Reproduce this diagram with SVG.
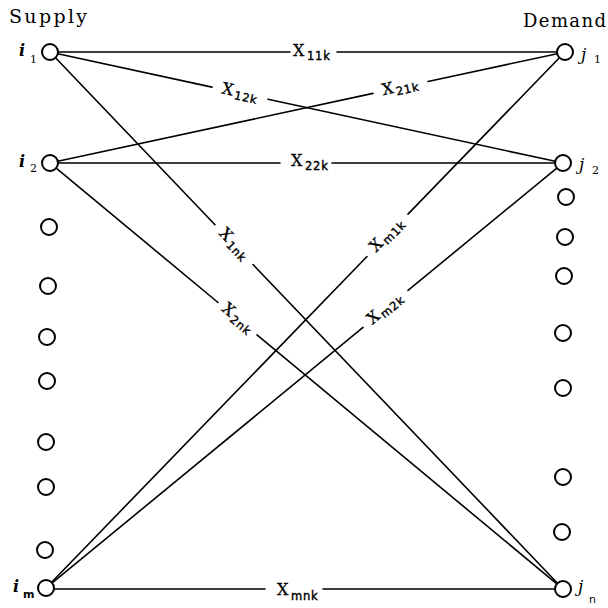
<svg xmlns="http://www.w3.org/2000/svg" width="608" height="608" viewBox="0 0 608 608">
<style>
.node{fill:#fff;stroke:#000;stroke-width:2}
.edge{stroke:#000;stroke-width:1.6;fill:none;stroke-linecap:round}
.title{font-family:"DejaVu Serif",serif;font-size:19px;fill:#000}
.nl{font-family:"DejaVu Serif",serif;font-style:italic;font-weight:bold;font-size:16px;fill:#000}
.ns{font-family:"DejaVu Serif",serif;font-style:normal;font-weight:normal;font-size:11px}
.nss{font-family:"DejaVu Sans",sans-serif;font-style:normal;font-weight:bold;font-size:11px}
.el{font-family:"DejaVu Serif",serif;font-size:16px;fill:#000;stroke:#000;stroke-width:0.3}
.es{font-family:"DejaVu Sans",sans-serif;font-size:11.5px;font-weight:normal;letter-spacing:0.8px;stroke-width:0.4}
</style>
<rect width="608" height="608" fill="#fff"/>
<text class="title" x="9" y="23" textLength="78" lengthAdjust="spacing">Supply</text>
<text class="title" x="523" y="27" textLength="83" lengthAdjust="spacing" style="font-size:18px">Demand</text>
<g id="connectors">
<g id="e-1-1">
<line class="edge" x1="58" y1="52" x2="290" y2="52"/>
<line class="edge" x1="337" y1="52" x2="557" y2="52"/>
<text class="el" x="293" y="56">X<tspan class="es" x="307" y="60">11k</tspan></text>
</g>
<g id="e-1-2">
<line class="edge" x1="57.8" y1="53.7" x2="212" y2="87.1"/>
<line class="edge" x1="268" y1="99.2" x2="555.2" y2="161.3"/>
<text class="el" transform="translate(240 93.2) rotate(12.2)" x="0" y="4" text-anchor="middle">X<tspan class="es" dx="2" dy="3">12k</tspan></text>
</g>
<g id="e-1-n">
<line class="edge" x1="55.5" y1="57.8" x2="215" y2="224.7"/>
<line class="edge" x1="253" y1="264.5" x2="557.5" y2="583.2"/>
<text class="el" transform="translate(234 244.6) rotate(46.3)" x="0" y="4" text-anchor="middle">X<tspan class="es" dx="2" dy="3">1nk</tspan></text>
</g>
<g id="e-2-1">
<line class="edge" x1="57.8" y1="161.3" x2="373" y2="93.4"/>
<line class="edge" x1="428" y1="81.5" x2="557.2" y2="53.7"/>
<text class="el" transform="translate(400.5 87.5) rotate(-12.2)" x="0" y="4" text-anchor="middle">X<tspan class="es" dx="2" dy="3">21k</tspan></text>
</g>
<g id="e-2-2">
<line class="edge" x1="58" y1="163" x2="280" y2="163"/>
<line class="edge" x1="332" y1="163" x2="555" y2="163"/>
<text class="el" x="291" y="166">X<tspan class="es" x="305" y="170">22k</tspan></text>
</g>
<g id="e-2-n">
<line class="edge" x1="56.2" y1="168.1" x2="218" y2="302.5"/>
<line class="edge" x1="257" y1="334.9" x2="556.8" y2="583.9"/>
<text class="el" transform="translate(237.5 318.7) rotate(39.7)" x="0" y="4" text-anchor="middle">X<tspan class="es" dx="2" dy="3">2nk</tspan></text>
</g>
<g id="e-m-1">
<line class="edge" x1="51.6" y1="582.3" x2="367" y2="256.5"/>
<line class="edge" x1="408" y1="214.1" x2="559.4" y2="57.7"/>
<text class="el" transform="translate(387.5 235.3) rotate(-45.9)" x="0" y="4" text-anchor="middle">X<tspan class="es" dx="2" dy="3">m1k</tspan></text>
</g>
<g id="e-m-2">
<line class="edge" x1="52.2" y1="582.9" x2="363" y2="327.4"/>
<line class="edge" x1="408" y1="290.4" x2="556.8" y2="168.1"/>
<text class="el" transform="translate(385.5 308.9) rotate(-39.4)" x="0" y="4" text-anchor="middle">X<tspan class="es" dx="2" dy="3">m2k</tspan></text>
</g>
<g id="e-m-n">
<line class="edge" x1="54" y1="589" x2="265" y2="589"/>
<line class="edge" x1="323" y1="589" x2="555" y2="589"/>
<text class="el" x="277" y="595">X<tspan class="es" x="291" y="600">mnk</tspan></text>
</g>
</g>
<g id="i1"><circle class="node" cx="50" cy="52" r="8"/><text class="nl" x="19" y="56">i<tspan class="ns" x="30" y="63">1</tspan></text></g>
<g id="i2"><circle class="node" cx="50" cy="163" r="8"/><text class="nl" x="19" y="167">i<tspan class="ns" x="30" y="172">2</tspan></text></g>
<g id="s3"><circle class="node" cx="49" cy="227" r="8"/></g>
<g id="s4"><circle class="node" cx="48" cy="286" r="8"/></g>
<g id="s5"><circle class="node" cx="47" cy="337" r="8"/></g>
<g id="s6"><circle class="node" cx="47" cy="381" r="8"/></g>
<g id="s7"><circle class="node" cx="46" cy="442" r="8"/></g>
<g id="s8"><circle class="node" cx="46" cy="487" r="8"/></g>
<g id="s9"><circle class="node" cx="45" cy="550" r="8"/></g>
<g id="im"><circle class="node" cx="46" cy="588" r="8"/><text class="nl" x="13" y="592">i<tspan class="nss" x="23" y="598">m</tspan></text></g>
<g id="j1"><circle class="node" cx="565" cy="52" r="8"/><text class="nl" x="581" y="60" style="font-weight:normal;font-size:17px">j<tspan class="ns" x="594" y="63" style="font-size:11px">1</tspan></text></g>
<g id="j2"><circle class="node" cx="563" cy="163" r="8"/><text class="nl" x="579" y="170" style="font-weight:normal;font-size:17px">j<tspan class="ns" x="592" y="174" style="font-size:11px">2</tspan></text></g>
<g id="d3"><circle class="node" cx="566" cy="197" r="8"/></g>
<g id="d4"><circle class="node" cx="565" cy="237" r="8"/></g>
<g id="d5"><circle class="node" cx="564" cy="276" r="8"/></g>
<g id="d6"><circle class="node" cx="563" cy="333" r="8"/></g>
<g id="d7"><circle class="node" cx="563" cy="388" r="8"/></g>
<g id="d8"><circle class="node" cx="563" cy="477" r="8"/></g>
<g id="d9"><circle class="node" cx="562" cy="532" r="8"/></g>
<g id="jn"><circle class="node" cx="563" cy="589" r="8"/><text class="nl" x="578" y="592" style="font-weight:normal;font-size:17px">j<tspan class="nss" x="589" y="603" style="font-weight:normal">n</tspan></text></g>
</svg>
